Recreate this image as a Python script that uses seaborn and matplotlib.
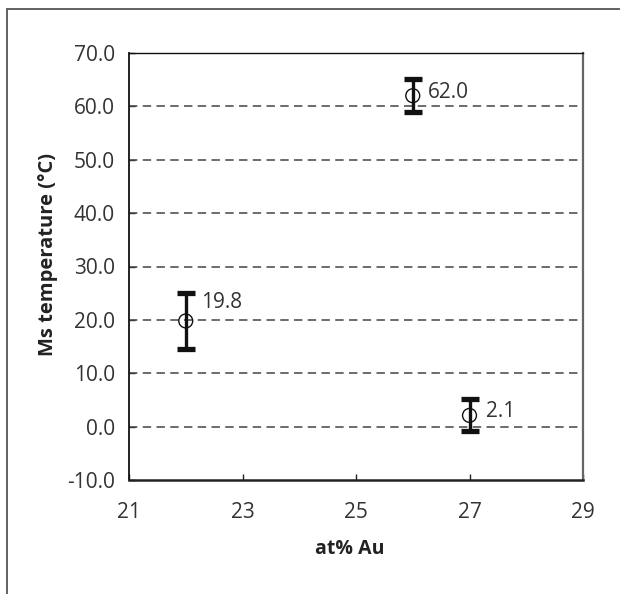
import matplotlib
matplotlib.use("Agg")
import matplotlib.pyplot as plt
import matplotlib.patches as patches
import seaborn as sns
import pandas as pd

# data
at_au = [22, 26, 27]
ms_temp = [19.8, 62.0, 2.1]
ms_err = [5.3, 3.1, 3.0]
point_labels = ["19.8", "62.0", "2.1"]

x_ticks = [21, 23, 25, 27, 29]
y_ticks = [-10, 0, 10, 20, 30, 40, 50, 60, 70]
grid_vals = [0, 10, 20, 30, 40, 50, 60]

# label offsets in points (style only)
label_offsets = [(11, 13), (11, 2), (12, 3)]

sns.set_theme(style="white")
plt.rcParams['font.family'] = ['Open Sans', 'DejaVu Sans']

df = pd.DataFrame({"x": at_au, "y": ms_temp, "err": ms_err})

fig = plt.figure(figsize=(6.2, 5.94), dpi=100)
ax = fig.add_axes([129/620, 1 - 480/594, 454/620, 427/594])

# outer frame, cut by the right and bottom edges
frame = patches.Rectangle((7/620, -0.1), 1.2, 1.1 - 9/594, transform=fig.transFigure,
                          fill=False, edgecolor="#555555", linewidth=1.3, clip_on=False)
fig.patches.append(frame)

for g in grid_vals:
    ax.axhline(g, color="#444444", linestyle=(0, (5.5, 3.5)), linewidth=1.1, zorder=1)

ax.errorbar(df["x"], df["y"], yerr=df["err"], fmt="none", ecolor="#111111",
            elinewidth=2.4, capsize=6.2, capthick=3.8, zorder=2)
sns.scatterplot(data=df, x="x", y="y", marker="o", s=100, facecolors="none",
                edgecolor="#111111", linewidth=1.0, ax=ax, zorder=3)

for xv, yv, lab, off in zip(at_au, ms_temp, point_labels, label_offsets):
    ax.annotate(lab, (xv, yv), xytext=off, textcoords="offset points",
                fontsize=15, color="#333333", va="center", ha="left")

ax.set_xlim(21, 29)
ax.set_ylim(-10, 70)
ax.set_xticks(x_ticks)
ax.set_yticks(y_ticks)
ax.set_xticklabels([str(t) for t in x_ticks])
ax.set_yticklabels([f"{t:.1f}" for t in y_ticks])
ax.tick_params(axis="both", direction="in", length=4.5, width=1, color="#222222",
               labelsize=15, labelcolor="#333333", left=True, bottom=True)
ax.tick_params(axis="y", pad=10)
ax.tick_params(axis="x", pad=16)

ax.set_xlabel("at% Au", fontsize=14, fontweight="bold", color="#222222", va="center")
ax.set_ylabel("Ms temperature (°C)", fontsize=14.5, fontweight="bold", color="#222222", va="center")
ax.xaxis.set_label_coords(0.487, -0.162)
ax.yaxis.set_label_coords(-0.178, 0.529)

ax.spines["top"].set_color("#111111")
ax.spines["top"].set_linewidth(1.0)
ax.spines["left"].set_color("#111111")
ax.spines["left"].set_linewidth(1.3)
ax.spines["right"].set_color("#666666")
ax.spines["right"].set_linewidth(1.6)
ax.spines["bottom"].set_color("#222222")
ax.spines["bottom"].set_linewidth(1.8)
for s in ax.spines.values():
    s.set_visible(True)

fig.savefig("out.png", dpi=100)
